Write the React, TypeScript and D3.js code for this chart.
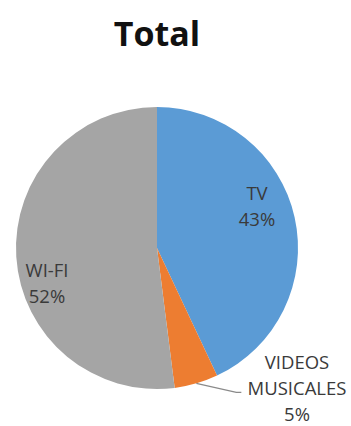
import React from "react";
import * as d3 from "d3";

const categories = ["TV", "VIDEOS MUSICALES", "WI-FI"];
const values = [43, 5, 52];
const labelLines = [["TV", "43%"], ["VIDEOS", "MUSICALES", "5%"], ["WI-FI", "52%"]];
const colors = ["#5B9BD5", "#ED7D31", "#A5A5A5"];
const title = "Total";

const W = 351;
const H = 426;
const cx = 157;
const cy = 248;
const R = 141;
// label block anchors (center x, first baseline y), relative to the pie centre
const labelLayout = [
  { dx: 100, dy: -48 },
  { dx: 140, dy: 121 },
  { dx: -110, dy: 29 },
];
const lineHeight = 26;

export default function App() {
  const pie = d3
    .pie<number>()
    .sort(null)
    .value((d) => d);
  const arcs = pie(values);
  const arc = d3.arc<d3.PieArcDatum<number>>().innerRadius(0).outerRadius(R);
  const edge = d3.arc<d3.PieArcDatum<number>>().innerRadius(R).outerRadius(R);

  const orange = arcs[1];
  const [ex, ey] = edge.centroid(orange);
  const lead = d3.line()([
    [ex, ey],
    [ex + 40, ey + 9],
    [ex + 45, ey + 9],
  ]);

  return (
    <svg
      width={W}
      height={H}
      style={{ position: "absolute", left: 0, top: 0, background: "#fff" }}
    >
      <text
        x={cx}
        y={46}
        textAnchor="middle"
        fontFamily="'Open Sans', sans-serif"
        fontWeight={700}
        fontSize={34}
        fill="#111"
      >
        {title}
      </text>
      <g transform={`translate(${cx},${cy})`}>
        {arcs.map((a, i) => (
          <path key={categories[i]} d={arc(a) || ""} fill={colors[i]} />
        ))}
        <path d={lead || ""} fill="none" stroke="#8a8a8a" strokeWidth={1.2} />
        {labelLines.map((lines, i) => (
          <text
            key={categories[i]}
            textAnchor="middle"
            fontFamily="'Open Sans', sans-serif"
            fontSize={18.5}
            fill="#3a3a3a"
          >
            {lines.map((l, j) => (
              <tspan key={j} x={labelLayout[i].dx} y={labelLayout[i].dy + j * lineHeight}>
                {l}
              </tspan>
            ))}
          </text>
        ))}
      </g>
    </svg>
  );
}
